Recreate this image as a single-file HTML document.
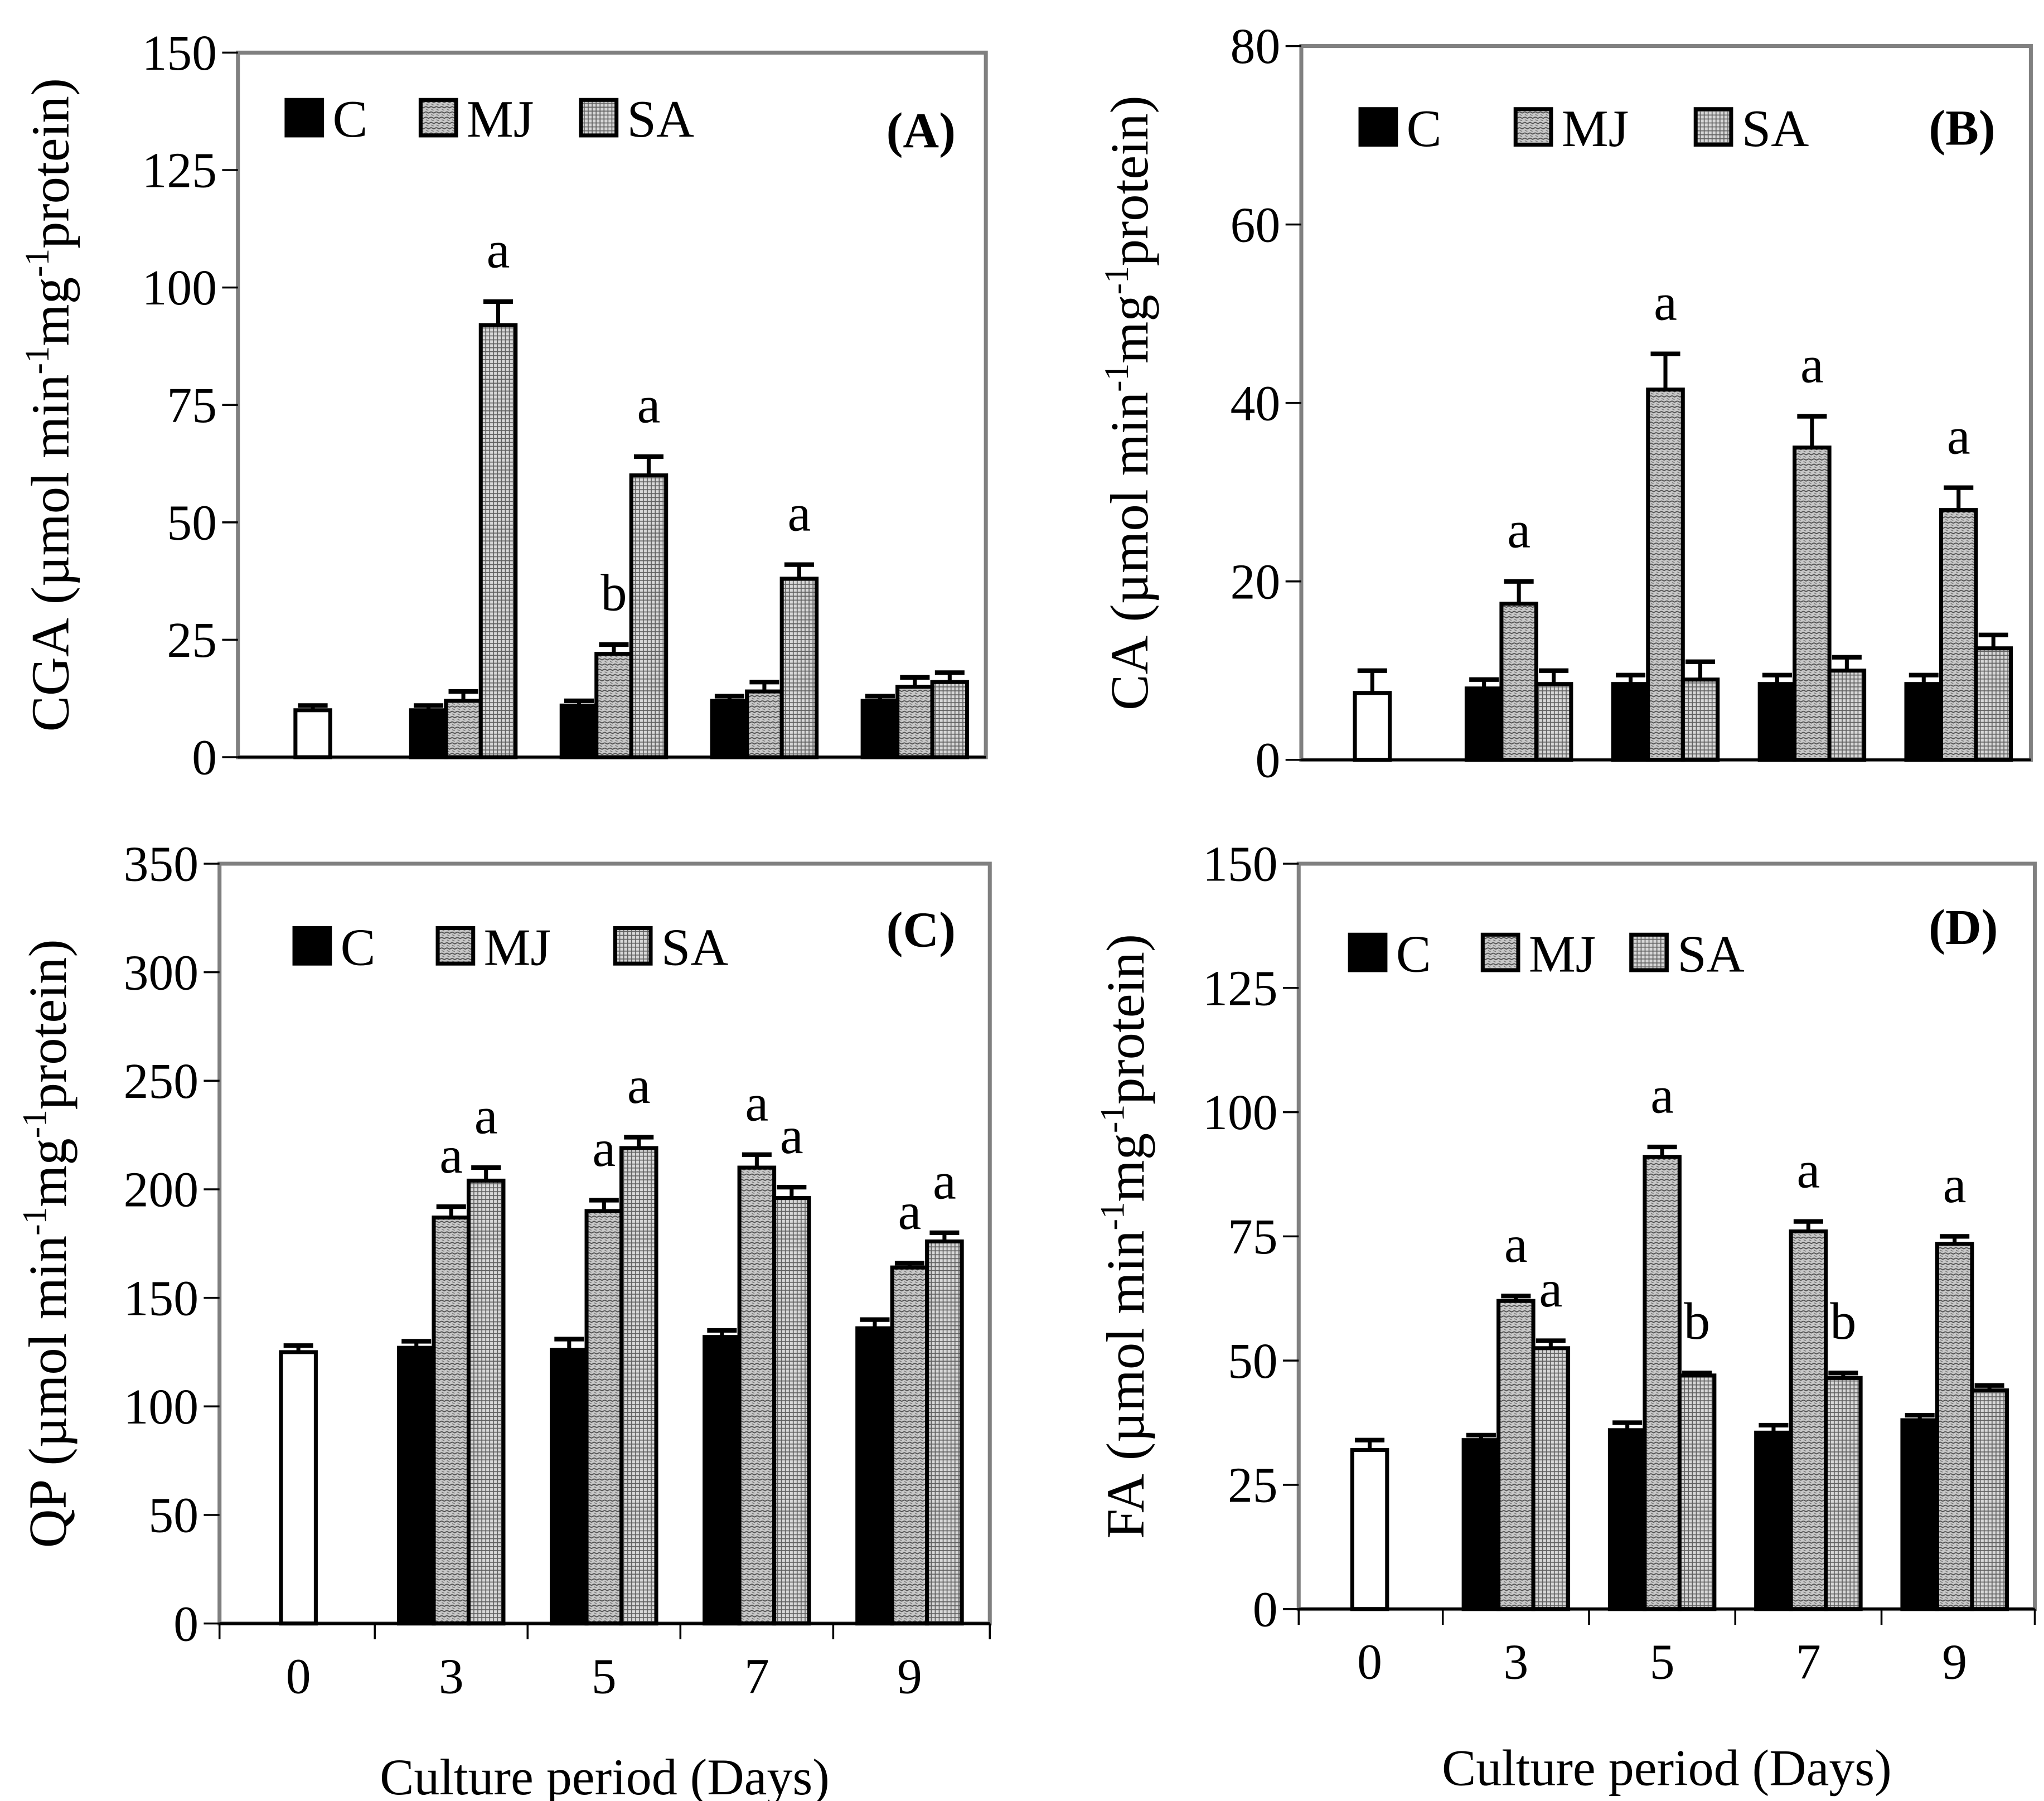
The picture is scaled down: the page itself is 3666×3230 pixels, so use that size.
<!DOCTYPE html>
<html><head><meta charset="utf-8">
<style>
html,body{margin:0;padding:0;background:#fff;}
svg{display:block;}
text{font-family:"Liberation Serif",serif;fill:#000;}
</style></head>
<body>
<svg id="fig" width="3666" height="3230" viewBox="0 0 1555 1370" xmlns="http://www.w3.org/2000/svg">
<defs>
<pattern id="pMJ" width="4" height="4" patternUnits="userSpaceOnUse">
<rect width="4" height="4" fill="#c8c8c8"/>
<path d="M0,1 L2,2 L4,1" stroke="#505050" stroke-width="0.8" fill="none"/>
<path d="M0,3 L2,4" stroke="#707070" stroke-width="0.6" fill="none"/>
</pattern>
<pattern id="pSA" width="3" height="3" patternUnits="userSpaceOnUse">
<rect width="3" height="3" fill="#d8d8d8"/>
<path d="M0,0.5 H3 M0.5,0 V3" stroke="#606060" stroke-width="0.7"/>
</pattern>
</defs>
</svg>
<script>
// ---- data ----
var categories = ["0","3","5","7","9"];
var seriesNames = ["C","MJ","SA"];
// Panel A (CGA)
var aBase = 10, aBaseErr = 11;
var aC = [10,11,12,12], aCErr = [11,12,13,13];
var aMJ = [12,22,14,15], aMJErr = [14,24,16,17];
var aSA = [92,60,38,16], aSAErr = [97,64,41,18];
var aTicks = [0,25,50,75,100,125,150];
// Panel B (CA)
var bBase = 7.5, bBaseErr = 10;
var bC = [8,8.5,8.5,8.5], bCErr = [9,9.5,9.5,9.5];
var bMJ = [17.5,41.5,35,28], bMJErr = [20,45.5,38.5,30.5];
var bSA = [8.5,9,10,12.5], bSAErr = [10,11,11.5,14];
var bTicks = [0,20,40,60,80];
// Panel C (QP)
var cBase = 125, cBaseErr = 128;
var cC = [127,126,132,136], cCErr = [130,131,135,140];
var cMJ = [187,190,210,164], cMJErr = [192,195,216,166];
var cSA = [204,219,196,176], cSAErr = [210,224,201,180];
var cTicks = [0,50,100,150,200,250,300,350];
// Panel D (FA)
var dBase = 32, dBaseErr = 34;
var dC = [34,36,35.5,38], dCErr = [35,37.5,37,39];
var dMJ = [62,91,76,73.5], dMJErr = [63,93,78,75];
var dSA = [52.5,47,46.5,44], dSAErr = [54,47.5,47.5,45];
var dTicks = [0,25,50,75,100,125,150];
// significance letters: [groupIndex, seriesIndex, letter]
var aLetters = [[0,2,"a"],[1,1,"b"],[1,2,"a"],[2,2,"a"]];
var bLetters = [[0,1,"a"],[1,1,"a"],[2,1,"a"],[3,1,"a"]];
var cLetters = [[0,1,"a"],[0,2,"a"],[1,1,"a"],[1,2,"a"],[2,1,"a"],[2,2,"a"],[3,1,"a"],[3,2,"a"]];
var dLetters = [[0,1,"a"],[0,2,"a"],[1,1,"a"],[1,2,"b"],[2,1,"a"],[2,2,"b"],[3,1,"a"]];

var NS = "http://www.w3.org/2000/svg";
var svg = document.getElementById("fig");
function mk(tag, attrs, parent){
  var e = document.createElementNS(NS, tag);
  for (var k in attrs) e.setAttribute(k, attrs[k]);
  (parent||svg).appendChild(e);
  return e;
}
var fills = ["#000","url(#pMJ)","url(#pSA)"];

function panel(cfg){
  var g = mk("g",{});
  
  
  var L=cfg.left,R=cfg.right,T=cfg.top,B=cfg.bottom,max=cfg.ticks[cfg.ticks.length-1];
  function y(v){return B-(v/max)*(B-T);}
  var step=(cfg.c9-cfg.c0)/4;
  function cx(i){return cfg.c0+i*step;}
  var bw=26.5;
  var fr=mk("rect",{x:L,y:T,width:R-L,height:B-T,fill:"none",stroke:"#808080","stroke-width":3},g);
  
  
  var ax=mk("line",{x1:L,y1:B,x2:R,y2:B,stroke:"#000","stroke-width":2},g);
  
  
  cfg.ticks.forEach(function(t){
    mk("line",{x1:L-12,y1:y(t),x2:L,y2:y(t),stroke:"#000","stroke-width":1.5},g);
    var tx=mk("text",{x:L-16,y:y(t)+13,"text-anchor":"end","font-size":38},g);
    tx.textContent=t;
    
    
  });
  if(cfg.xlabels){
    for(var i=0;i<=5;i++){
      var xx=(i==0?L:(i==5?R:(cx(i-1)+cx(i))/2));
      mk("line",{x1:xx,y1:B,x2:xx,y2:B+12,stroke:"#000","stroke-width":1.5},g);
    }
    categories.forEach(function(c,i){
      var tx=mk("text",{x:cx(i),y:B+53,"text-anchor":"middle","font-size":38},g);
      tx.textContent=c;
      
      
    });
    var xt=mk("text",{x:(L+R)/2,y:B+cfg.xtOff,"text-anchor":"middle","font-size":39},g);
    xt.textContent="Culture period (Days)";
    
    
  }
  var yt=mk("text",{transform:"translate("+cfg.titleX+","+((T+B)/2)+") rotate(-90)","text-anchor":"middle","font-size":41},g);
  
  
  var s1=mk("tspan",{},yt); s1.textContent=cfg.yname;
  var s2=mk("tspan",{},yt); s2.textContent=" (\u00b5mol min";
  var s3=mk("tspan",{dy:-15,"font-size":26},yt); s3.textContent="-1";
  var s4=mk("tspan",{dy:15},yt); s4.textContent="mg";
  var s5=mk("tspan",{dy:-15,"font-size":26},yt); s5.textContent="-1";
  var s6=mk("tspan",{dy:15},yt); s6.textContent="protein)";
  function bar(xc,v,ev,fill,nm){
    var r=mk("rect",{x:xc-bw/2,y:y(v),width:bw,height:B-y(v),fill:fill,stroke:"#000","stroke-width":3},g);
    
    
    mk("line",{x1:xc,y1:y(v),x2:xc,y2:y(ev),stroke:"#000","stroke-width":3},g);
    mk("line",{x1:xc-bw/2+2,y1:y(ev),x2:xc+bw/2-2,y2:y(ev),stroke:"#000","stroke-width":3.5},g);
  }
  bar(cx(0),cfg.base,cfg.baseErr,"#fff","bar-day-0");
  var vals=[cfg.C,cfg.MJ,cfg.SA], errs=[cfg.CErr,cfg.MJErr,cfg.SAErr];
  for(var gi=0;gi<4;gi++){
    for(var si=0;si<3;si++){
      bar(cx(gi+1)+(si-1)*bw,vals[si][gi],errs[si][gi],fills[si],"bar-"+seriesNames[si].toLowerCase()+"-day-"+categories[gi+1]);
    }
  }
  cfg.letters.forEach(function(l){
    var xc=cx(l[0]+1)+(l[1]-1)*bw;
    var tx=mk("text",{x:xc,y:y(errs[l[1]][l[0]])-26,"text-anchor":"middle","font-size":40},g);
    tx.textContent=l[2];
    
    
  });
  cfg.legend.forEach(function(lx,i){
    var r=mk("rect",{x:lx,y:cfg.legY,width:27,height:27,fill:fills[i],stroke:"#000","stroke-width":3},g);
    
    
    var tx=mk("text",{x:lx+35,y:cfg.legY+28,"font-size":40},g);
    tx.textContent=seriesNames[i];
    
    
  });
  var pl=mk("text",{x:cfg.labX,y:cfg.labY,"text-anchor":"end","font-size":38,"font-weight":"bold"},g);
  pl.textContent=cfg.label;
  
  
}

panel({name:"panel-a-cga",left:181,right:750,top:40,bottom:576,c0:238,c9:696,ticks:aTicks,
  base:aBase,baseErr:aBaseErr,C:aC,CErr:aCErr,MJ:aMJ,MJErr:aMJErr,SA:aSA,SAErr:aSAErr,letters:aLetters,
  yname:"CGA",titleX:52,legend:[218,320,442],legY:76,label:"(A)",labX:727,labY:112,xlabels:false});
panel({name:"panel-b-ca",left:990,right:1545,top:35,bottom:578,c0:1044,c9:1490,ticks:bTicks,
  base:bBase,baseErr:bBaseErr,C:bC,CErr:bCErr,MJ:bMJ,MJErr:bMJErr,SA:bSA,SAErr:bSAErr,letters:bLetters,
  yname:"CA",titleX:873,legend:[1035,1153,1290],legY:83,label:"(B)",labX:1518,labY:110,xlabels:false});
panel({name:"panel-c-qp",left:167,right:753,top:657,bottom:1235,c0:227,c9:692,ticks:cTicks,
  base:cBase,baseErr:cBaseErr,C:cC,CErr:cCErr,MJ:cMJ,MJErr:cMJErr,SA:cSA,SAErr:cSAErr,letters:cLetters,
  yname:"QP",titleX:50,legend:[224,333,468],legY:706,label:"(C)",labX:727,labY:720,xlabels:true,xtOff:130});
panel({name:"panel-d-fa",left:988,right:1548,top:657,bottom:1224,c0:1042,c9:1487,ticks:dTicks,
  base:dBase,baseErr:dBaseErr,C:dC,CErr:dCErr,MJ:dMJ,MJErr:dMJErr,SA:dSA,SAErr:dSAErr,letters:dLetters,
  yname:"FA",titleX:870,legend:[1027,1128,1241],legY:711,label:"(D)",labX:1520,labY:718,xlabels:true,xtOff:134});
</script>
</body></html>
